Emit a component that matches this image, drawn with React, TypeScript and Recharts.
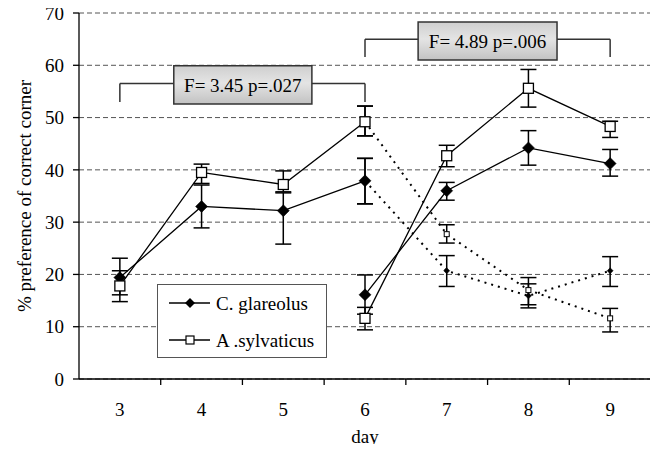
import React from 'react';
import {
  LineChart,
  Line,
  XAxis,
  YAxis,
  CartesianGrid,
  ErrorBar,
  ReferenceArea,
  ReferenceLine,
  Legend,
} from 'recharts';

// ---- data ----
const days = [3, 4, 5, 6, 7, 8, 9];

// phase 1 (days 3-6), null where the series is not drawn
const glareolusPhase1 = [19.4, 33.0, 32.2, 37.9, null, null, null];
const glareolusPhase1Low = [16.1, 28.9, 25.8, 33.5, null, null, null];
const glareolusPhase1High = [23.1, 37.1, 35.6, 42.2, null, null, null];

const sylvaticusPhase1 = [17.8, 39.5, 37.2, 49.2, null, null, null];
const sylvaticusPhase1Low = [14.8, 37.4, 35.8, 46.5, null, null, null];
const sylvaticusPhase1High = [20.7, 41.1, 39.8, 52.2, null, null, null];

// phase 2 (days 6-9)
const glareolusPhase2 = [null, null, null, 16.1, 36.0, 44.2, 41.2];
const glareolusPhase2Low = [null, null, null, 12.4, 34.2, 40.9, 38.8];
const glareolusPhase2High = [null, null, null, 19.9, 37.6, 47.5, 43.9];

const sylvaticusPhase2 = [null, null, null, 11.6, 42.7, 55.6, 48.3];
const sylvaticusPhase2Low = [null, null, null, 9.4, 40.6, 52.0, 46.2];
const sylvaticusPhase2High = [null, null, null, 13.7, 44.7, 59.2, 49.3];

// dotted continuation (days 6-9)
const glareolusDotted = [null, null, null, 37.9, 20.7, 15.9, 20.7];
const glareolusDottedLow = [null, null, null, 33.5, 17.7, 13.6, 17.7];
const glareolusDottedHigh = [null, null, null, 42.2, 23.6, 18.2, 23.4];

const sylvaticusDotted = [null, null, null, 49.2, 27.7, 17.0, 11.6];
const sylvaticusDottedLow = [null, null, null, 46.5, 26.0, 14.2, 9.0];
const sylvaticusDottedHigh = [null, null, null, 52.2, 29.5, 19.4, 13.5];

const dayTickMarks = [3.5, 4.5, 5.5, 6.5, 7.5, 8.5, 9.5];
const yTicks = [0, 10, 20, 30, 40, 50, 60, 70];

const seriesNames = ['C. glareolus', 'A .sylvaticus'];

const annotation1 = { text: 'F= 3.45 p=.027', from: 3, to: 6, bracketY: 56.5, footY: 53.0, boxX1: 3.66, boxX2: 5.35, boxY1: 52.6, boxY2: 59.9 };
const annotation2 = { text: 'F= 4.89 p=.006', from: 6, to: 9, bracketY: 65.0, footY: 61.6, boxX1: 6.65, boxX2: 8.35, boxY1: 61.0, boxY2: 68.3 };
const annotations = [annotation1, annotation2];

// ---- table built from the arrays ----
const errOf = (v: (number | null)[], lo: (number | null)[], hi: (number | null)[], i: number) =>
  v[i] == null || lo[i] == null || hi[i] == null ? null : [(v[i] as number) - (lo[i] as number), (hi[i] as number) - (v[i] as number)];

const table = days.map((d, i) => ({
  day: d,
  g1: glareolusPhase1[i],
  g1e: errOf(glareolusPhase1, glareolusPhase1Low, glareolusPhase1High, i),
  s1: sylvaticusPhase1[i],
  s1e: errOf(sylvaticusPhase1, sylvaticusPhase1Low, sylvaticusPhase1High, i),
  g2: glareolusPhase2[i],
  g2e: errOf(glareolusPhase2, glareolusPhase2Low, glareolusPhase2High, i),
  s2: sylvaticusPhase2[i],
  s2e: errOf(sylvaticusPhase2, sylvaticusPhase2Low, sylvaticusPhase2High, i),
  gd: glareolusDotted[i],
  gde: errOf(glareolusDotted, glareolusDottedLow, glareolusDottedHigh, i),
  sd: sylvaticusDotted[i],
  sde: errOf(sylvaticusDotted, sylvaticusDottedLow, sylvaticusDottedHigh, i),
}));

const FONT = 'Liberation Serif';

const diamondDot = (r: number) => (props: any) => {
  const { cx, cy, index, value } = props;
  if (cx == null || cy == null || value == null) return <g key={`d${index}`} />;
  return (
    <polygon
      key={`d${index}`}
      points={`${cx},${cy - r} ${cx + r},${cy} ${cx},${cy + r} ${cx - r},${cy}`}
      fill="#000"
      stroke="#000"
      strokeWidth={0.5}
    />
  );
};

const squareDot = (h: number, sw: number) => (props: any) => {
  const { cx, cy, index, value } = props;
  if (cx == null || cy == null || value == null) return <g key={`s${index}`} />;
  return (
    <rect key={`s${index}`} x={cx - h} y={cy - h} width={2 * h} height={2 * h} fill="#fff" stroke="#000" strokeWidth={sw} />
  );
};

const XTick = (props: any) => {
  const { x, y, payload } = props;
  const v = payload.value;
  if (Number.isInteger(v)) {
    return (
      <text x={x} y={y + 37} textAnchor="middle" fontSize={19} fontFamily={FONT}>
        {v}
      </text>
    );
  }
  return <line x1={x} x2={x} y1={y} y2={y + 6} stroke="#000" strokeWidth={1.3} />;
};

const LegendBox = () => (
  <svg width={170} height={74} style={{ display: 'block' }}>
    <rect x={0.5} y={0.5} width={169} height={73} fill="#fff" stroke="#555" strokeWidth={1} />
    <line x1={12} x2={53} y1={19} y2={19} stroke="#000" strokeWidth={1.3} />
    <polygon points="33,14 38,19 33,24 28,19" fill="#000" />
    <text x={59} y={25.5} fontSize={19} fontFamily={FONT}>{seriesNames[0]}</text>
    <line x1={12} x2={53} y1={56} y2={56} stroke="#000" strokeWidth={1.3} />
    <rect x={29} y={52} width={8} height={8} fill="#fff" stroke="#000" strokeWidth={1.2} />
    <text x={59} y={62.5} fontSize={19} fontFamily={FONT}>{seriesNames[1]}</text>
  </svg>
);

export default function App() {
  return (
    <LineChart
      width={658}
      height={452}
      data={table}
      margin={{ top: 13, right: 7, left: 0, bottom: 0 }}
      style={{ margin: -8, fontFamily: FONT }}
    >
      <defs>
        <linearGradient id="boxGrad" x1="0" y1="0" x2="0" y2="1">
          <stop offset="0%" stopColor="#cfcfcf" />
          <stop offset="45%" stopColor="#e4e4e4" />
          <stop offset="100%" stopColor="#c2c2c2" />
        </linearGradient>
      </defs>
      <CartesianGrid vertical={false} stroke="#555" strokeDasharray="5 3" />
      <XAxis
        dataKey="day"
        type="number"
        domain={[2.5, 9.5]}
        ticks={[...days, ...dayTickMarks].sort((a, b) => a - b)}
        interval={0}
        allowDecimals
        height={73}
        tickLine={false}
        tickSize={0}
        tickMargin={0}
        axisLine={{ stroke: '#000', strokeWidth: 1.3 }}
        tick={<XTick />}
        label={{ value: 'day', position: 'insideBottom', offset: 9, fontSize: 19, fontFamily: FONT, fill: '#000' }}
      />
      <YAxis
        type="number"
        domain={[0, 70]}
        ticks={yTicks}
        interval={0}
        width={79}
        tickSize={6}
        tickMargin={9}
        axisLine={{ stroke: '#000', strokeWidth: 1.3 }}
        tickLine={{ stroke: '#000', strokeWidth: 1.3 }}
        tick={{ fontSize: 19, fontFamily: FONT, fill: '#000' }}
        label={{
          value: '% preference of correct corner',
          angle: -90,
          position: 'center',
          dx: -15,
          fontSize: 19,
          fontFamily: FONT,
          fill: '#000',
        }}
      />

      {annotations.map((a, i) => (
        <ReferenceLine key={`la${i}`} segment={[{ x: a.from, y: a.bracketY }, { x: a.boxX1, y: a.bracketY }]} stroke="#333" strokeWidth={1.5} />
      ))}
      {annotations.map((a, i) => (
        <ReferenceLine key={`lb${i}`} segment={[{ x: a.boxX2, y: a.bracketY }, { x: a.to, y: a.bracketY }]} stroke="#333" strokeWidth={1.5} />
      ))}
      {annotations.map((a, i) => (
        <ReferenceLine key={`lc${i}`} segment={[{ x: a.from, y: a.bracketY }, { x: a.from, y: a.footY }]} stroke="#333" strokeWidth={1.5} />
      ))}
      {annotations.map((a, i) => (
        <ReferenceLine key={`ld${i}`} segment={[{ x: a.to, y: a.bracketY }, { x: a.to, y: a.footY }]} stroke="#333" strokeWidth={1.5} />
      ))}
      {annotations.map((a, i) => (
        <ReferenceArea
          key={`ra${i}`}
          x1={a.boxX1}
          x2={a.boxX2}
          y1={a.boxY1}
          y2={a.boxY2}
          fill="url(#boxGrad)"
          fillOpacity={1}
          stroke="#333"
          strokeWidth={1.5}
          label={{ value: a.text, position: 'center', fontSize: 19, fontFamily: FONT, fill: '#000' }}
        />
      ))}

      <Line dataKey="gd" name="gd" legendType="none" stroke="#000" strokeWidth={2} strokeDasharray="2 5" dot={diamondDot(3)} activeDot={false} isAnimationActive={false}>
        <ErrorBar dataKey="gde" width={8} stroke="#000" strokeWidth={1.5} direction="y" />
      </Line>
      <Line dataKey="sd" name="sd" legendType="none" stroke="#000" strokeWidth={2} strokeDasharray="2 5" dot={squareDot(2.5, 1)} activeDot={false} isAnimationActive={false}>
        <ErrorBar dataKey="sde" width={8} stroke="#000" strokeWidth={1.5} direction="y" />
      </Line>
      <Line dataKey="g1" name={seriesNames[0]} stroke="#000" strokeWidth={1.3} dot={diamondDot(6)} activeDot={false} isAnimationActive={false}>
        <ErrorBar dataKey="g1e" width={8} stroke="#000" strokeWidth={1.5} direction="y" />
      </Line>
      <Line dataKey="s1" name={seriesNames[1]} stroke="#000" strokeWidth={1.3} dot={squareDot(5, 1.3)} activeDot={false} isAnimationActive={false}>
        <ErrorBar dataKey="s1e" width={8} stroke="#000" strokeWidth={1.5} direction="y" />
      </Line>
      <Line dataKey="g2" name="g2" legendType="none" stroke="#000" strokeWidth={1.3} dot={diamondDot(6)} activeDot={false} isAnimationActive={false}>
        <ErrorBar dataKey="g2e" width={8} stroke="#000" strokeWidth={1.5} direction="y" />
      </Line>
      <Line dataKey="s2" name="s2" legendType="none" stroke="#000" strokeWidth={1.3} dot={squareDot(5, 1.3)} activeDot={false} isAnimationActive={false}>
        <ErrorBar dataKey="s2e" width={8} stroke="#000" strokeWidth={1.5} direction="y" />
      </Line>

      <Legend
        layout="vertical"
        align="center"
        verticalAlign="middle"
        wrapperStyle={{ position: 'absolute', left: 157, top: 284, width: 170, height: 74 }}
        content={() => <LegendBox />}
      />
    </LineChart>
  );
}
